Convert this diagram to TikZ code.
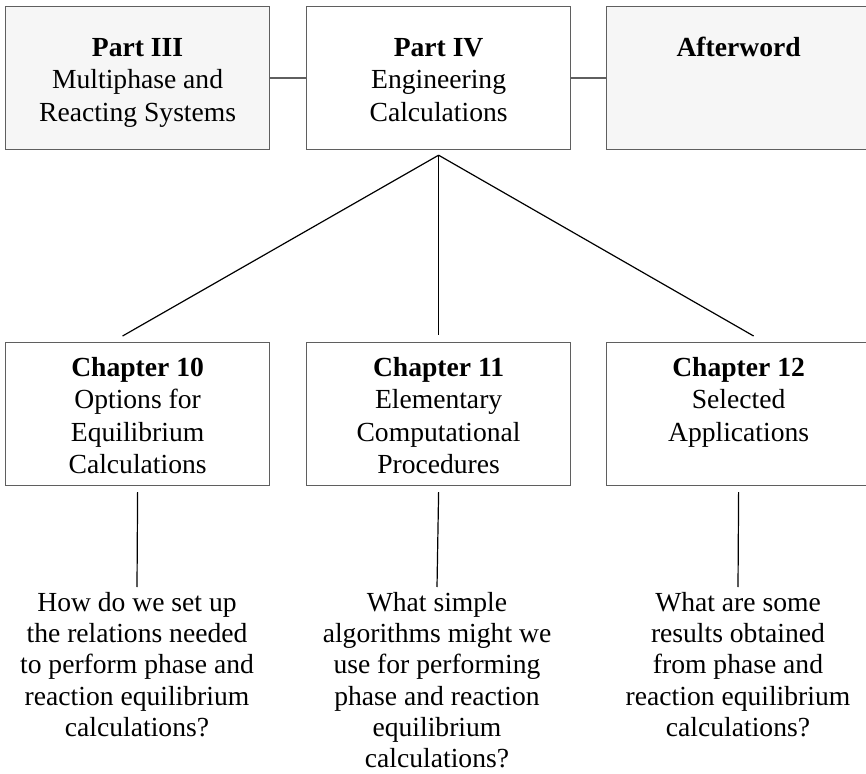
\documentclass[tikz,border=0pt]{standalone}
\usepackage{fontspec}
\setmainfont{Liberation Serif}
\usetikzlibrary{calc}
\definecolor{boxgray}{RGB}{246,246,246}
\definecolor{framegray}{RGB}{95,95,95}
\tikzset{
  partbox/.style={draw=framegray, line width=0.6pt, minimum width=132pt, minimum height=71.5pt, inner sep=0pt, anchor=north west},
  boxtext/.style={align=center, inner sep=0pt, anchor=north, font=\fontsize{13.8}{16.2}\selectfont},
  asktext/.style={boxtext, font=\fontsize{13.8}{15.6}\selectfont},
  link/.style={line width=0.6pt},
}

\begin{document}
\begin{tikzpicture}[x=0.5pt, y=-0.5pt]
            \useasboundingbox(0,0)rectangle(866,774);
            \clip(0,0)rectangle(866,774);
            % parts
            \node[partbox, fill=boxgray](p3)at(5,6){};
            \node[partbox, fill=white](p4)at(306,6){};
            \node[partbox, fill=boxgray](aw)at(606,6){};
            \node[boxtext](p3t)at($(p3.north)+(0,32)$){\textbf{Part III}\\Multiphase and\\Reacting Systems};
            \node[boxtext](p4t)at($(p4.north)+(0,32)$){\textbf{Part IV}\\Engineering\\Calculations};
            \node[boxtext](awt)at($(aw.north)+(0,31)$){\textbf{Afterword}};
            % chapters
            \node[partbox, fill=white](ch10)at(5,342){};
            \node[partbox, fill=white](ch11)at(306,342){};
            \node[partbox, fill=white](ch12)at(606,342){};
            \node[boxtext](ch10t)at($(ch10.north)+(0,15)$){\textbf{Chapter 10}\\Options for\\Equilibrium\\Calculations};
            \node[boxtext](ch11t)at($(ch11.north)+(0,15)$){\textbf{Chapter 11}\\Elementary\\Computational\\Procedures};
            \node[boxtext](ch12t)at($(ch12.north)+(0,15)$){\textbf{Chapter 12}\\Selected\\Applications};
            % questions
            \node[asktext](q10)at(137,592){How do we set up\\the relations needed\\to perform phase and\\reaction equilibrium\\calculations?};
            \node[asktext](q11)at(437,592){What simple\\algorithms might we\\use for performing\\phase and reaction\\equilibrium\\calculations?};
            \node[asktext](q12)at(738,592){What are some\\results obtained\\from phase and\\reaction equilibrium\\calculations?};
            % links between parts
            \path[draw, link, framegray](p3.east)to(p4.west);
            \path[draw, link, framegray](p4.east)to(aw.west);
            % links to chapters
            \coordinate(fork)at($(p4.south)+(0,5)$);
            \coordinate(c10)at($(ch10.north)+(-15,-6)$);
            \coordinate(c11)at($(ch11.north)+(0,-7)$);
            \coordinate(c12)at($(ch12.north)+(15,-6)$);
            \path[draw, link](fork)to(c10);
            \path[draw, link](fork)to(c11);
            \path[draw, link](fork)to(c12);
            % links to questions
            \path[draw, link]($(ch10.south)+(0,6)$)to($(q10.north)+(0,-5)$);
            \path[draw, link]($(ch11.south)+(0,6)$)to($(q11.north)+(0,-5)$);
            \path[draw, link]($(ch12.south)+(0,6)$)to($(q12.north)+(0,-5)$);
        \end{tikzpicture}
\end{document}
